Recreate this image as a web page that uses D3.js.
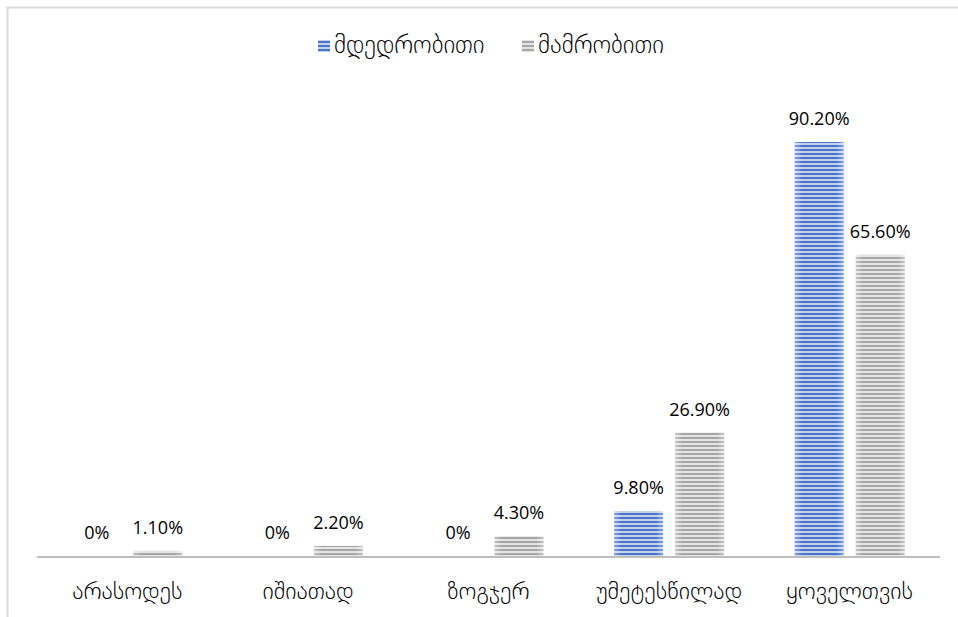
<!DOCTYPE html>
<html>
<head>
<meta charset="utf-8">
<script src="https://cdn.jsdelivr.net/npm/d3@7"></script>
<style>
  body { margin: 0; background: #fff; }
  text { font-family: "Open Sans", "DejaVu Sans", sans-serif; fill: #000; }
  text.geo { font-family: "DejaVu Sans", sans-serif; font-weight: 200; }
</style>
</head>
<body>
<div id="chart"></div>
<script>
var w = 958;
var h = 617;

var categories = ["არასოდეს", "იშიათად", "ზოგჯერ", "უმეტესწილად", "ყოველთვის"];
var seriesNames = ["მდედრობითი", "მამრობითი"];
var female = [0, 0, 0, 9.8, 90.2];
var male = [1.1, 2.2, 4.3, 26.9, 65.6];
var femaleLabels = ["0%", "0%", "0%", "9.80%", "90.20%"];
var maleLabels = ["1.10%", "2.20%", "4.30%", "26.90%", "65.60%"];

var margin = {left: 37, right: 18, top: 97, bottom: 61};

var svg = d3.select("#chart")
    .append("svg")
    .attr("width", w)
    .attr("height", h);

// striped fills
var defs = svg.append("defs");
function stripes(id, light, dark) {
    var p = defs.append("pattern")
        .attr("id", id)
        .attr("patternUnits", "userSpaceOnUse")
        .attr("width", 8)
        .attr("height", 4);
    p.append("rect").attr("width", 8).attr("height", 4).attr("fill", light);
    p.append("rect").attr("y", 1).attr("width", 8).attr("height", 2).attr("fill", dark);
}
stripes("blueStripe", "#c3d0ee", "#4a74c8");
stripes("greyStripe", "#e4e4e4", "#a6a6a6");

var shade = defs.append("linearGradient").attr("id", "shade");
shade.append("stop").attr("offset", "0%").attr("stop-color", "#fff").attr("stop-opacity", 0.35);
shade.append("stop").attr("offset", "15%").attr("stop-color", "#fff").attr("stop-opacity", 0);
shade.append("stop").attr("offset", "85%").attr("stop-color", "#fff").attr("stop-opacity", 0);
shade.append("stop").attr("offset", "100%").attr("stop-color", "#fff").attr("stop-opacity", 0.35);

// frame (cropped chart border)
svg.append("path")
    .attr("d", "M7.5," + h + "V7.5H" + w)
    .attr("fill", "none")
    .attr("stroke", "#d9d9d9")
    .attr("stroke-width", 2);

var x = d3.scaleBand()
    .domain(categories)
    .range([margin.left, w - margin.right]);

var y = d3.scaleLinear()
    .domain([0, 100])
    .range([h - margin.bottom, margin.top]);

var barW = 49, gap = 12;

var series = [
    {name: seriesNames[0], values: female, labels: femaleLabels, fill: "url(#blueStripe)", off: -gap / 2 - barW},
    {name: seriesNames[1], values: male, labels: maleLabels, fill: "url(#greyStripe)", off: gap / 2}
];

series.forEach(function(s) {
    var g = svg.append("g");
    var cx = function(d, i) { return x(categories[i]) + x.bandwidth() / 2 + s.off; };
    g.selectAll("rect.bar")
        .data(s.values)
        .enter()
        .append("rect")
        .attr("class", "bar")
        .attr("x", cx)
        .attr("y", function(d) { return y(d); })
        .attr("width", barW)
        .attr("height", function(d) { return y(0) - y(d); })
        .attr("fill", s.fill);
    g.selectAll("rect.shade")
        .data(s.values)
        .enter()
        .append("rect")
        .attr("x", cx)
        .attr("y", function(d) { return y(d); })
        .attr("width", barW)
        .attr("height", function(d) { return y(0) - y(d); })
        .attr("fill", "url(#shade)");
    g.selectAll("text")
        .data(s.values)
        .enter()
        .append("text")
        .attr("x", function(d, i) { return cx(d, i) + barW / 2; })
        .attr("y", function(d) { return y(d) - 17; })
        .attr("text-anchor", "middle")
        .attr("font-size", 18)
        .text(function(d, i) { return s.labels[i]; });
});

// x axis
svg.append("line")
    .attr("x1", margin.left)
    .attr("x2", w - margin.right)
    .attr("y1", y(0) + 1)
    .attr("y2", y(0) + 1)
    .attr("stroke", "#bfbfbf")
    .attr("stroke-width", 2);

svg.append("g")
    .selectAll("text")
    .data(categories)
    .enter()
    .append("text")
    .attr("class", "geo")
    .attr("x", function(d) { return x(d) + x.bandwidth() / 2; })
    .attr("y", 599)
    .attr("text-anchor", "middle")
    .attr("font-size", 24)
    .text(function(d) { return d; });

// legend
var legend = svg.append("g");
var legendX = [318, 522];
series.forEach(function(s, i) {
    legend.append("rect")
        .attr("x", legendX[i])
        .attr("y", 40)
        .attr("width", 12)
        .attr("height", 12)
        .attr("fill", s.fill);
    legend.append("text")
        .attr("class", "geo")
        .attr("x", legendX[i] + 16)
        .attr("y", 53)
        .attr("font-size", 25)
        .text(s.name);
});
</script>
</body>
</html>
